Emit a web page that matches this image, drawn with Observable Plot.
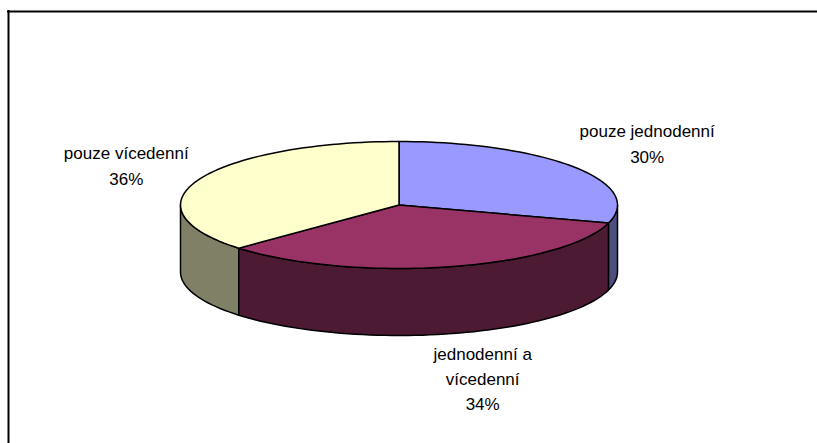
<!DOCTYPE html>
<html>
<head>
<meta charset="utf-8">
<style>html,body{margin:0;padding:0;background:#fff}svg{display:block}</style>
<script src="https://cdn.jsdelivr.net/npm/d3@7"></script>
<script src="https://cdn.jsdelivr.net/npm/@observablehq/plot@0.6"></script>
</head>
<body>
<script>
const categories = ["pouze jednodenní", "jednodenní a\nvícedenní", "pouze vícedenní"];
const percentLabels = ["30%", "34%", "36%"];
const shares = [29.6, 33.5, 36.9];
const topColors = ["#9999ff", "#993366", "#ffffcc"];
const wallColors = ["#4d4d80", "#4d1a33", "#808066"];
const labelDx = [73, 34, -72.5];
const labelDy = [-25, 110, -16];

const W = 817, H = 443;
const cx = 398.5, cy = 204.5, rx = 218.5, ry = 63.5, depth = 67;
const total = d3.sum(shares);
const cum = d3.cumsum(shares);
const slices = shares.map((v, i) => ({
  i, v,
  a0: ((cum[i] - v) / total) * 360,
  a1: (cum[i] / total) * 360
}));
const rim = (a, dy = 0) => {
  const t = a * Math.PI / 180;
  return {x: cx + rx * Math.sin(t), y: cy - ry * Math.cos(t) + dy};
};
const arc = (a0, a1, dy = 0) => {
  const n = Math.max(2, Math.ceil(Math.abs(a1 - a0) / 2));
  return d3.range(n + 1).map(k => rim(a0 + (a1 - a0) * k / n, dy));
};
const topPoly = s => [{x: cx, y: cy}, ...arc(s.a0, s.a1), {x: cx, y: cy}];
const wallPoly = (a0, a1) => {
  const p = [...arc(a0, a1), ...arc(a1, a0, depth)];
  return [...p, p[0]];
};
const poly = (pts, fill) => Plot.line(pts, {
  x: "x", y: "y", fill, stroke: "#000", strokeWidth: 1.5,
  strokeLinejoin: "round", strokeLinecap: "round", curve: "linear"
});

const walls = [
  poly(wallPoly(slices[2].a0, 270), wallColors[2]),
  poly(wallPoly(90, slices[0].a1), wallColors[0]),
  poly(wallPoly(slices[1].a0, slices[1].a1), wallColors[1])
];
const tops = slices.map(s => poly(topPoly(s), topColors[s.i]));
const labels = slices.map(s => {
  const p = rim((s.a0 + s.a1) / 2);
  return Plot.text([{...p, t: `${categories[s.i]}\n${percentLabels[s.i]}`}], {
    x: "x", y: "y", text: "t",
    dx: labelDx[s.i], dy: labelDy[s.i],
    fontFamily: "Liberation Sans", fontSize: 17, lineHeight: 1.5,
    textAnchor: "middle", lineAnchor: "middle", fill: "#000"
  });
});

const chart = Plot.plot({
  width: W, height: H,
  margin: 0,
  x: {domain: [0, W], range: [0, W], axis: null},
  y: {domain: [0, H], range: [0, H], axis: null},
  style: {background: "#fff"},
  marks: [
    Plot.ruleX([8], {y1: 10, y2: H, stroke: "#000", strokeWidth: 2}),
    Plot.ruleY([11], {x1: 7, x2: W, stroke: "#000", strokeWidth: 2}),
    ...walls,
    ...tops,
    ...labels
  ]
});
document.body.appendChild(chart);
</script>
</body>
</html>
